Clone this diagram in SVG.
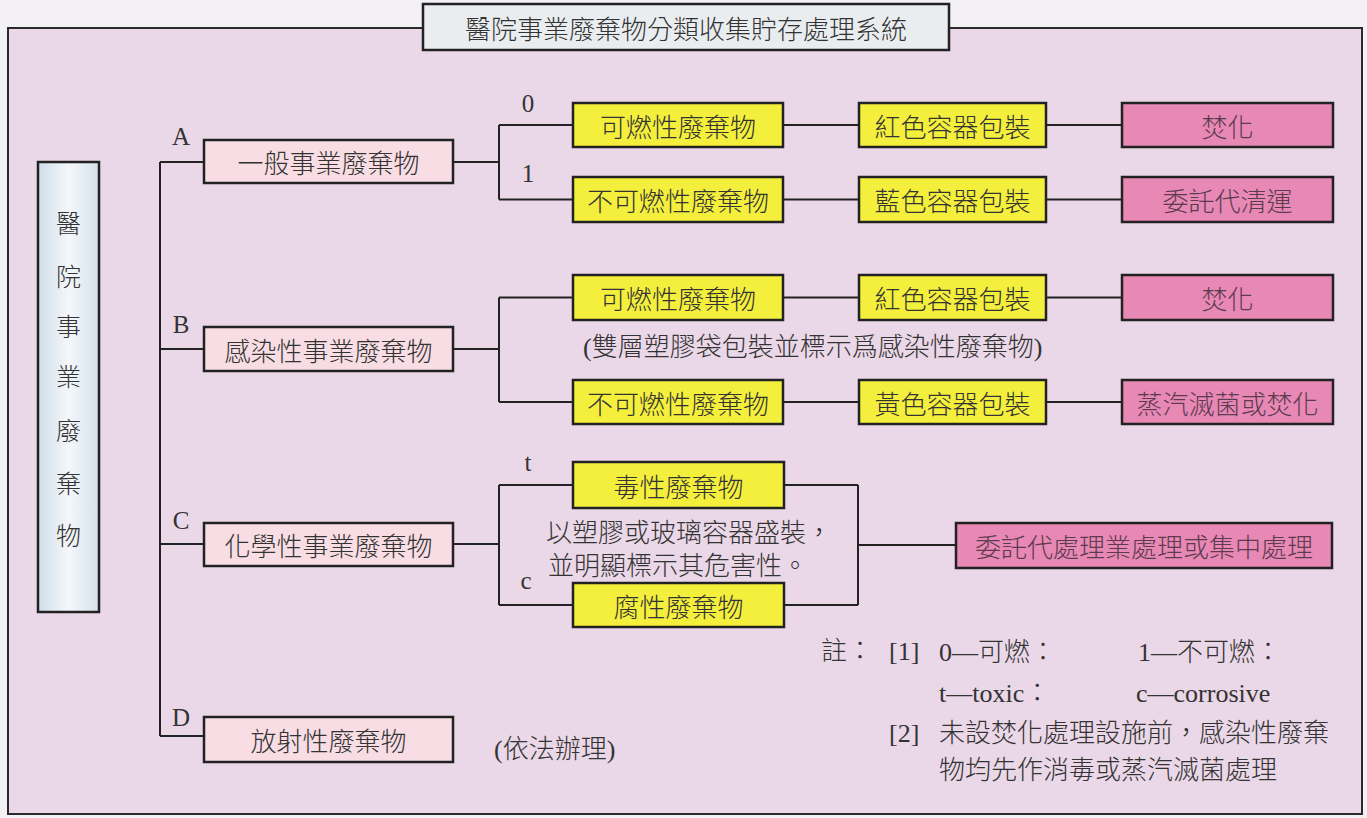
<svg xmlns="http://www.w3.org/2000/svg" width="1367" height="818" viewBox="0 0 1367 818">
<defs>
<style>
.frame{fill:#ead7e7;stroke:#2a2a2a;stroke-width:2}
.title{fill:#e9edf0;stroke:#222;stroke-width:2.5}
.cat{fill:#f8dde4;stroke:#222;stroke-width:2.5}
.yel{fill:#f3ef3c;stroke:#222;stroke-width:2.5}
.pnk{fill:#e888b5;stroke:#222;stroke-width:2.5}
.vbox{fill:url(#vg);stroke:#222;stroke-width:2.5}
.t{font-family:"Noto Sans CJK TC","Noto Sans CJK SC",sans-serif;font-size:26px;font-weight:300;fill:#333;text-anchor:middle;dominant-baseline:central}
.tp{fill:#5c3b4e}
.v{font-size:25px}
.n{font-family:"Liberation Serif","Noto Sans CJK TC",serif;font-size:26px;font-weight:300;fill:#333}
.lat{font-family:"Liberation Serif",serif;font-size:25px;fill:#333;text-anchor:middle}
.lines path{fill:none;stroke:#222;stroke-width:2}
</style>
<linearGradient id="vg" x1="0" y1="0" x2="1" y2="0"><stop offset="0" stop-color="#cfdde9"/><stop offset="0.5" stop-color="#f4f7fa"/><stop offset="1" stop-color="#d6e2ec"/></linearGradient>
</defs>
<rect x="0" y="0" width="1367" height="818" fill="#f3f1f3"/>
<rect class="frame" x="8" y="28" width="1354" height="786"/>
<g id="title"><rect class="title" x="423" y="4" width="526" height="46"/><text class="t" x="686" y="27">醫院事業廢棄物分類收集貯存處理系統</text></g>

<g class="lines" id="connectors">
<path d="M160,162 V736 M160,162 H204 M160,349 H204 M160,544 H204 M160,736 H204"/>
<path d="M453,162 H499 M499,125 V199.5 M499,125 H573 M499,199.5 H573"/>
<path d="M453,349 H499 M499,297.5 V402 M499,297.5 H573 M499,402 H573"/>
<path d="M453,544 H499 M499,485 V605 M499,485 H573 M499,605 H573 M784,485 H858 M784,605 H858 M858,485 V605 M858,545 H956"/>
<path d="M783,125 H859 M1046,125 H1122 M783,199.5 H859 M1046,199.5 H1122 M783,297.5 H859 M1046,297.5 H1122 M783,402 H859 M1046,402 H1122"/>
</g>

<g id="root"><rect class="vbox" x="38" y="162" width="61" height="450"/>
<text class="t v" x="68.5" y="222">醫</text><text class="t v" x="68.5" y="275">院</text><text class="t v" x="68.5" y="325">事</text><text class="t v" x="68.5" y="375">業</text><text class="t v" x="68.5" y="429">廢</text><text class="t v" x="68.5" y="482">棄</text><text class="t v" x="68.5" y="534">物</text></g>

<g id="A"><rect class="cat" x="204" y="140" width="249" height="43"/><text class="t" x="328.5" y="161.5">一般事業廢棄物</text></g>
<g id="B"><rect class="cat" x="204" y="327" width="249" height="44"/><text class="t" x="328.5" y="349">感染性事業廢棄物</text></g>
<g id="C"><rect class="cat" x="204" y="523" width="249" height="43"/><text class="t" x="328.5" y="544.5">化學性事業廢棄物</text></g>
<g id="D"><rect class="cat" x="204" y="717" width="249" height="45"/><text class="t" x="328.5" y="739.5">放射性廢棄物</text></g>

<g id="A0"><rect class="yel" x="573" y="103" width="210" height="44"/><text class="t" x="678" y="125">可燃性廢棄物</text></g>
<g id="A1"><rect class="yel" x="573" y="177" width="210" height="45"/><text class="t" x="678" y="199.5">不可燃性廢棄物</text></g>
<g id="B0"><rect class="yel" x="573" y="275" width="210" height="45"/><text class="t" x="678" y="297.5">可燃性廢棄物</text></g>
<g id="B1"><rect class="yel" x="573" y="380" width="210" height="44"/><text class="t" x="678" y="402">不可燃性廢棄物</text></g>
<g id="Ct"><rect class="yel" x="573" y="462" width="211" height="46"/><text class="t" x="678.5" y="485">毒性廢棄物</text></g>
<g id="Cc"><rect class="yel" x="573" y="583" width="211" height="44"/><text class="t" x="678.5" y="605">腐性廢棄物</text></g>

<g id="A0p"><rect class="yel" x="859" y="103" width="187" height="44"/><text class="t" x="952.5" y="125">紅色容器包裝</text></g>
<g id="A1p"><rect class="yel" x="859" y="177" width="187" height="45"/><text class="t" x="952.5" y="199.5">藍色容器包裝</text></g>
<g id="B0p"><rect class="yel" x="859" y="275" width="187" height="45"/><text class="t" x="952.5" y="297.5">紅色容器包裝</text></g>
<g id="B1p"><rect class="yel" x="859" y="380" width="187" height="44"/><text class="t" x="952.5" y="402">黃色容器包裝</text></g>

<g id="A0d"><rect class="pnk" x="1122" y="103" width="211" height="44"/><text class="t tp" x="1227.5" y="125">焚化</text></g>
<g id="A1d"><rect class="pnk" x="1122" y="177" width="211" height="45"/><text class="t tp" x="1227.5" y="199.5">委託代清運</text></g>
<g id="B0d"><rect class="pnk" x="1122" y="275" width="211" height="45"/><text class="t tp" x="1227.5" y="297.5">焚化</text></g>
<g id="B1d"><rect class="pnk" x="1122" y="380" width="211" height="44"/><text class="t tp" x="1227.5" y="402">蒸汽滅菌或焚化</text></g>
<g id="Cd"><rect class="pnk" x="956" y="523" width="376" height="45"/><text class="t tp" x="1144" y="545.5">委託代處理業處理或集中處理</text></g>

<g id="labels">
<text class="lat" x="181" y="145">A</text><text class="lat" x="181" y="333">B</text><text class="lat" x="181" y="529">C</text><text class="lat" x="181" y="726">D</text>
<text class="lat" x="528" y="112">0</text><text class="lat" x="528" y="182">1</text><text class="lat" x="528" y="471">t</text><text class="lat" x="526" y="589">c</text>
<text class="n" x="583" y="356">(雙層塑膠袋包裝並標示爲感染性廢棄物)</text>
<text class="n" x="546" y="542">以塑膠或玻璃容器盛裝，</text>
<text class="n" x="548" y="575">並明顯標示其危害性。</text>
<text class="n" x="494" y="758">(依法辦理)</text>
</g>
<g id="notes">
<text class="n" x="821" y="660">註：</text>
<text class="n" x="889" y="660">[1]</text>
<text class="n" x="939" y="661">0—可燃：</text>
<text class="n" x="1138" y="661">1—不可燃：</text>
<text class="n" x="939" y="702">t—toxic：</text>
<text class="n" x="1136" y="702">c—corrosive</text>
<text class="n" x="889" y="742">[2]</text>
<text class="n" x="939" y="742">未設焚化處理設施前，感染性廢棄</text>
<text class="n" x="939" y="779">物均先作消毒或蒸汽滅菌處理</text>
</g>
</svg>
